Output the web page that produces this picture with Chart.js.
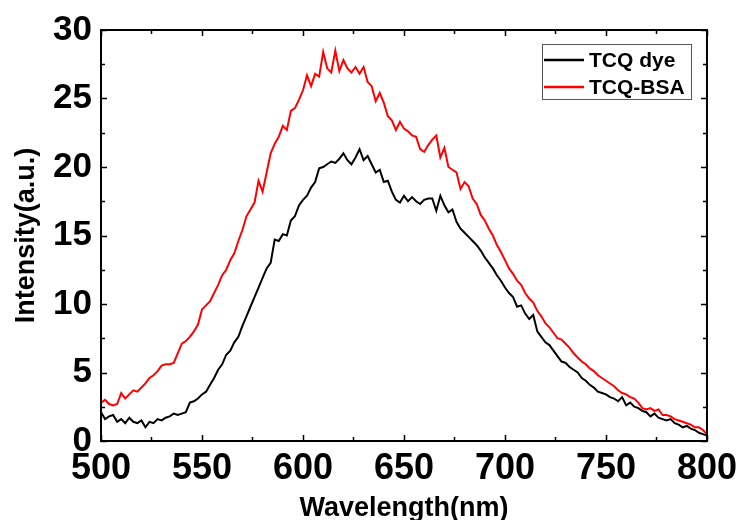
<!DOCTYPE html>
<html>
<head>
<meta charset="utf-8">
<script src="https://cdn.jsdelivr.net/npm/chart.js@4/dist/chart.umd.min.js"></script>
<style>
  body { margin: 0; background: #fff; }
  #wrap { width: 743px; height: 520px; }
</style>
</head>
<body>
<div id="wrap"><canvas id="spectra" width="743" height="520"></canvas></div>
<script>
// wavelength grid: 500 .. 800 nm every 2 nm
var startWl = 500;
var stepWl = 2;

// TCQ dye (black)
var tcqDye = [
  2.1, 1.6, 1.8, 1.9, 1.4, 1.6, 1.3, 1.7, 1.4, 1.3,
  1.5, 1.0, 1.4, 1.3, 1.6, 1.5, 1.7, 1.8, 2.0, 1.9,
  2.0,
  2.1, 2.8, 2.9, 3.1, 3.4, 3.6, 4.1, 4.6, 5.2, 5.6,
  6.3, 6.6, 7.2, 7.6, 8.4, 9.1, 9.8, 10.5, 11.2, 11.9,
  12.6, 13.0, 14.7, 14.6, 15.1, 15.0, 16.1, 16.4, 17.2, 17.6,
  17.9, 18.5, 18.9, 19.9, 20.0, 20.2, 20.4, 20.3, 20.6, 21.0,
  20.5, 20.2, 20.7, 21.3, 20.5, 20.8, 20.2, 19.6, 19.8, 18.9,
  19.0, 18.2, 17.6, 17.4, 17.9, 17.5, 17.8, 17.5, 17.3, 17.6,
  17.7, 17.7, 16.8, 17.9, 17.2, 16.7, 16.9, 16.0, 15.5, 15.2,
  14.9, 14.6, 14.3, 13.9, 13.4, 13.0, 12.6, 12.1, 11.7, 11.2,
  10.8, 10.5, 9.8, 9.9, 9.3, 8.9, 9.2, 8.0, 7.6, 7.2,
  7.0, 6.6, 6.2, 5.8, 5.7, 5.4, 5.2, 5.0, 4.6, 4.4,
  4.1, 3.9, 3.6, 3.5, 3.4, 3.2, 3.1, 2.9, 3.2, 2.6,
  2.8, 2.5, 2.4, 2.2, 2.1, 1.8, 2.0, 1.7, 1.6, 1.5,
  1.6, 1.3, 1.2, 1.0, 1.1, 0.9, 0.8, 0.6, 0.5, 0.4
];

// TCQ-BSA (red)
var tcqBsa = [
  2.8, 3.0, 2.7, 2.6, 2.7, 3.5, 3.1, 3.4, 3.7, 3.6,
  3.9, 4.2, 4.6, 4.8, 5.1, 5.5, 5.6, 5.6, 5.7, 6.4,
  7.1,
  7.3, 7.6, 8.0, 8.5, 9.6, 9.9, 10.2, 10.8, 11.4, 12.1,
  12.5, 13.2, 13.7, 14.6, 15.4, 16.4, 16.9, 17.4, 19.0, 18.2,
  19.6, 21.0, 21.7, 22.2, 23.0, 22.7, 24.1, 24.3, 24.9, 25.6,
  26.7, 25.9, 26.8, 26.6, 28.4, 27.2, 26.9, 28.5, 27.0, 27.8,
  27.2, 26.9, 27.3, 26.8, 27.3, 26.2, 25.9, 24.8, 25.4, 24.7,
  23.7, 23.4, 22.7, 23.3, 22.8, 22.6, 22.3, 22.2, 21.3, 21.1,
  21.6, 22.0, 22.3, 20.7, 21.4, 20.0, 19.8, 19.6, 18.4, 18.9,
  18.6, 17.7, 17.3, 16.5, 16.1, 15.5, 15.0, 14.3, 13.8, 13.2,
  12.6, 12.2, 11.7, 11.4, 10.8, 10.4, 10.1, 9.5, 9.1, 8.6,
  8.3, 7.9, 7.5, 7.4, 7.1, 6.8, 6.4, 6.1, 5.8, 5.6,
  5.3, 5.1, 4.8, 4.6, 4.4, 4.2, 4.0, 3.7, 3.5, 3.4,
  3.2, 3.1, 2.8, 2.4, 2.3, 2.4, 2.2, 2.3, 1.9, 1.9,
  1.8, 1.6, 1.5, 1.4, 1.3, 1.2, 1.0, 1.0, 0.8, 0.5
];

var seriesNames = ['TCQ dye', 'TCQ-BSA'];
var seriesColors = ['#000000', '#ff0000'];
var xTicks = [500, 550, 600, 650, 700, 750, 800];
var yTicks = [0, 5, 10, 15, 20, 25, 30];

var fontFam = '"Liberation Sans", Arial, sans-serif';

function toPoints(arr) {
  var pts = [];
  for (var i = 0; i < arr.length; i++) {
    pts.push({ x: startWl + i * stepWl, y: arr[i] });
  }
  return pts;
}

// frame, inward ticks on all four sides, and the boxed legend
var frameTicks = {
  id: 'frameTicks',
  afterDraw: function (chart) {
    var c = chart.ctx, a = chart.chartArea;
    var xs = chart.scales.x, ys = chart.scales.y;
    c.save();
    c.strokeStyle = '#000';
    c.lineWidth = 2;
    c.strokeRect(a.left, a.top, a.right - a.left, a.bottom - a.top);
    c.lineWidth = 1.5;
    c.beginPath();
    for (var w = 500; w <= 800; w += 25) {
      var px = Math.round(xs.getPixelForValue(w)) + 0.5;
      var len = (w % 50 === 0) ? 6 : 4;
      c.moveTo(px, a.bottom); c.lineTo(px, a.bottom - len);
      c.moveTo(px, a.top); c.lineTo(px, a.top + len);
    }
    for (var v = 0; v <= 30; v += 2.5) {
      var py = Math.round(ys.getPixelForValue(v)) + 0.5;
      var l2 = (v % 5 === 0) ? 6 : 4;
      c.moveTo(a.left, py); c.lineTo(a.left + l2, py);
      c.moveTo(a.right, py); c.lineTo(a.right - l2, py);
    }
    c.stroke();

    // legend box
    var bx = 542, by = 44, bw = 149, bh = 55;
    c.lineWidth = 1;
    c.strokeStyle = '#555';
    c.strokeRect(bx + 0.5, by + 0.5, bw, bh);
    c.font = 'bold 21px ' + fontFam;
    c.textBaseline = 'middle';
    c.textAlign = 'left';
    for (var i = 0; i < chart.data.datasets.length; i++) {
      var ds = chart.data.datasets[i];
      var ly = by + 16 + i * 27;
      c.strokeStyle = ds.borderColor;
      c.lineWidth = 2.5;
      c.beginPath();
      c.moveTo(bx + 2, ly); c.lineTo(bx + 42, ly);
      c.stroke();
      c.fillStyle = '#000';
      c.fillText(ds.label, bx + 47, ly + 1);
    }
    c.restore();
  }
};

var spectra = new Chart(document.getElementById('spectra'), {
  type: 'line',
  data: {
    datasets: [{
      label: seriesNames[0],
      data: toPoints(tcqDye),
      borderColor: seriesColors[0],
      borderWidth: 2,
      pointRadius: 0,
      tension: 0
    }, {
      label: seriesNames[1],
      data: toPoints(tcqBsa),
      borderColor: seriesColors[1],
      borderWidth: 2,
      pointRadius: 0,
      tension: 0
    }]
  },
  options: {
    responsive: false,
    animation: false,
    layout: { padding: { left: 0, right: 34, top: 30, bottom: 0 } },
    plugins: {
      legend: { display: false },
      tooltip: { enabled: false }
    },
    scales: {
      x: {
        type: 'linear',
        min: 500,
        max: 800,
        afterBuildTicks: function (s) { s.ticks = xTicks.map(function (v) { return { value: v }; }); },
        grid: { display: false, drawTicks: false },
        border: { display: false },
        ticks: {
          color: '#000',
          padding: 6,
          maxRotation: 0,
          font: { family: fontFam, size: 36, weight: 'bold' }
        },
        title: {
          display: true,
          text: 'Wavelength(nm)',
          color: '#000',
          padding: { top: 0, bottom: -2 },
          font: { family: fontFam, size: 27, weight: 'bold', lineHeight: 1.0 }
        },
        afterFit: function (s) { s.height = 79; }
      },
      y: {
        min: 0,
        max: 30,
        afterBuildTicks: function (s) { s.ticks = yTicks.map(function (v) { return { value: v }; }); },
        grid: { display: false, drawTicks: false },
        border: { display: false },
        ticks: {
          color: '#000',
          padding: 9,
          font: { family: fontFam, size: 35, weight: 'bold' }
        },
        title: {
          display: true,
          text: 'Intensity(a.u.)',
          color: '#000',
          padding: { top: 10, bottom: 0 },
          font: { family: fontFam, size: 27, weight: 'bold' }
        },
        afterFit: function (s) { s.width = 101; }
      }
    }
  },
  plugins: [frameTicks]
});
</script>
</body>
</html>
